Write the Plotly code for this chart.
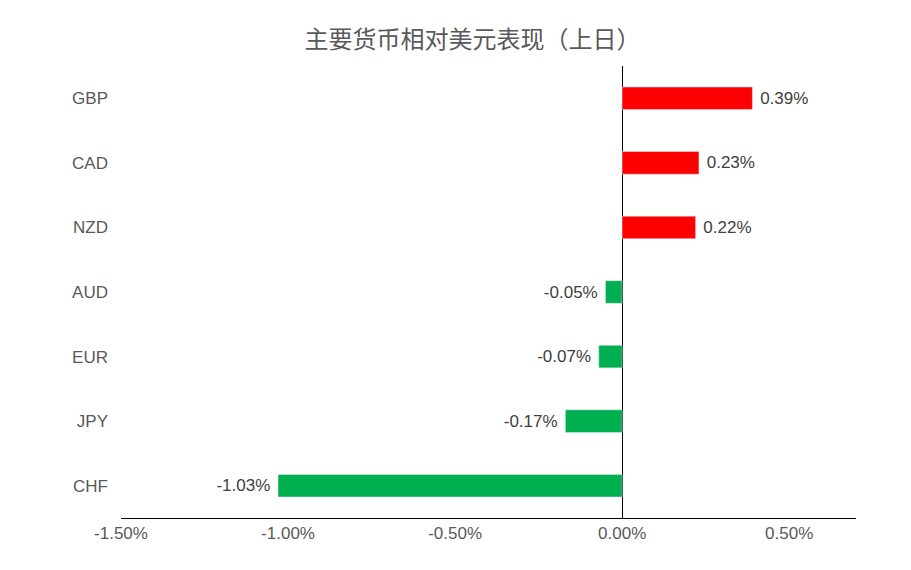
import plotly.graph_objects as go

currencies = ["GBP", "CAD", "NZD", "AUD", "EUR", "JPY", "CHF"]
values = [0.39, 0.23, 0.22, -0.05, -0.07, -0.17, -1.03]
tick_vals = [-1.5, -1.0, -0.5, 0.0, 0.5]
tick_text = ["-1.50%", "-1.00%", "-0.50%", "0.00%", "0.50%"]

colors = ["#FF0000" if v > 0 else "#00B050" for v in values]
labels = [f" {v:.2f}% " for v in values]

fig = go.Figure(go.Bar(
    x=values, y=currencies, orientation="h", marker_color=colors,
    width=0.35, text=labels, textposition="outside", cliponaxis=False,
    textfont=dict(size=17, color="#404040"),
))
fig.update_layout(
    width=911, height=570, plot_bgcolor="white", paper_bgcolor="white",
    margin=dict(l=113, r=63, t=58, b=60, autoexpand=False),
    font=dict(family="Liberation Sans, Noto Sans CJK SC", color="#595959", size=17),
    title=dict(text="主要货币相对美元表现（上日）", x=0.51, xanchor="center", y=0.96,
               font=dict(size=24, color="#595959", family="Noto Sans CJK SC")),
    showlegend=False,
    xaxis=dict(range=[-1.5, 0.7], tickvals=tick_vals, ticktext=tick_text, showgrid=False,
               zeroline=True, zerolinecolor="black", zerolinewidth=1, automargin=False,
               showline=True, linecolor="black", linewidth=1, ticks="", ticklen=0),
    yaxis=dict(categoryorder="array", categoryarray=currencies[::-1], showgrid=False,
               ticks="", ticklabelstandoff=12, automargin=False),
)
fig.write_html("out.html")
